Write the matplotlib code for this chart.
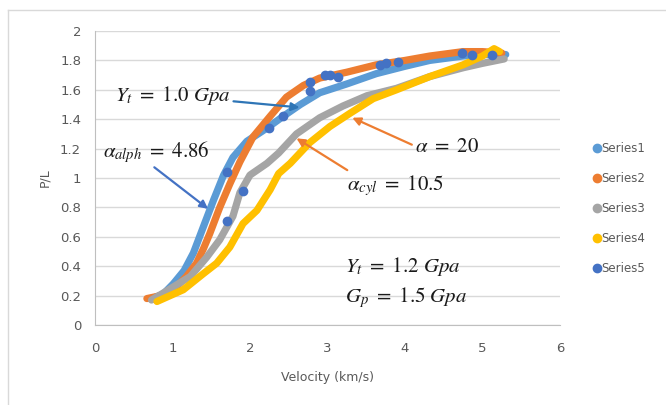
import matplotlib.pyplot as plt
from matplotlib.lines import Line2D

# velocity (km/s) and P/L for each series
v1 = [0.74, 0.88, 1.01, 1.15, 1.27, 1.40, 1.53, 1.66, 1.78, 1.96, 2.22, 2.43, 2.65, 2.90, 3.25, 3.63, 4.0, 4.32, 4.75, 5.0, 5.3]
p1 = [0.18, 0.21, 0.28, 0.37, 0.49, 0.67, 0.85, 1.02, 1.14, 1.25, 1.34, 1.42, 1.50, 1.58, 1.64, 1.71, 1.76, 1.80, 1.83, 1.84, 1.84]

v2 = [0.67, 0.85, 1.05, 1.18, 1.31, 1.40, 1.48, 1.61, 1.74, 1.87, 2.04, 2.26, 2.47, 2.69, 2.90, 3.25, 3.63, 4.0, 4.32, 4.75, 5.0, 5.25]
p2 = [0.18, 0.20, 0.26, 0.33, 0.42, 0.52, 0.62, 0.80, 0.96, 1.11, 1.28, 1.42, 1.55, 1.63, 1.68, 1.72, 1.77, 1.80, 1.83, 1.86, 1.86, 1.85]

v3 = [0.73, 0.92, 1.23, 1.44, 1.61, 1.78, 1.87, 2.0, 2.22, 2.37, 2.60, 2.90, 3.20, 3.51, 3.89, 4.32, 4.75, 5.0, 5.28]
p3 = [0.17, 0.23, 0.33, 0.46, 0.58, 0.74, 0.90, 1.02, 1.10, 1.17, 1.30, 1.41, 1.49, 1.56, 1.61, 1.69, 1.75, 1.78, 1.81]

v4 = [0.80, 1.14, 1.40, 1.57, 1.74, 1.91, 2.09, 2.26, 2.37, 2.52, 2.77, 3.03, 3.29, 3.59, 3.89, 4.32, 4.75, 5.0, 5.15, 5.22]
p4 = [0.16, 0.24, 0.35, 0.42, 0.53, 0.69, 0.78, 0.92, 1.03, 1.10, 1.24, 1.35, 1.44, 1.54, 1.60, 1.69, 1.77, 1.83, 1.88, 1.86]

v5 = [1.71, 1.71, 1.91, 2.24, 2.43, 2.77, 2.77, 2.97, 3.03, 3.14, 3.68, 3.76, 3.91, 4.73, 4.86, 5.12]
p5 = [0.71, 1.04, 0.91, 1.34, 1.42, 1.59, 1.65, 1.70, 1.70, 1.69, 1.77, 1.78, 1.79, 1.85, 1.84, 1.84]

names = ['Series1', 'Series2', 'Series3', 'Series4', 'Series5']
colors = ['#5B9BD5', '#ED7D31', '#A5A5A5', '#FFC000', '#4472C4']

xticks = [0, 1, 2, 3, 4, 5, 6]
yticks = [0, 0.2, 0.4, 0.6, 0.8, 1, 1.2, 1.4, 1.6, 1.8, 2]
ytick_labels = ['0', '0.2', '0.4', '0.6', '0.8', '1', '1.2', '1.4', '1.6', '1.8', '2']

plt.rcParams['mathtext.fontset'] = 'stix'

fig = plt.figure(figsize=(6.66, 4.05), dpi=100)
ax = fig.add_axes([0.1426, 0.1975, 0.6982, 0.7259])

for vv, pp, c in zip([v1, v2, v3, v4], [p1, p2, p3, p4], colors[:4]):
    ax.plot(vv, pp, color=c, lw=5.2, solid_capstyle='round', solid_joinstyle='round', zorder=3)
ax.plot(v5, p5, 'o', color=colors[4], ms=6, zorder=4)

ax.set_xlim(0, 6)
ax.set_ylim(0, 2)
ax.set_xticks(xticks)
ax.set_yticks(yticks)
ax.set_yticklabels(ytick_labels)
ax.tick_params(length=0, labelsize=9.5, colors='#595959')
ax.tick_params(axis='x', pad=12)
ax.tick_params(axis='y', pad=10)
ax.grid(axis='y', color='#D9D9D9', lw=1)
ax.set_axisbelow(True)
for s in ['top', 'right']:
    ax.spines[s].set_visible(False)
for s in ['left', 'bottom']:
    ax.spines[s].set_color('#BFBFBF')
ax.set_xlabel('Velocity (km/s)', fontsize=9, color='#595959', labelpad=12)
ax.set_ylabel('P/L', fontsize=9, color='#595959', labelpad=6)

# annotations
ts = 15
ax.annotate(r'$Y_t\ =\ 1.0\ Gpa$', xy=(2.64, 1.48), xytext=(0.26, 1.56),
            fontsize=ts, va='center', color='#1a1a1a',
            arrowprops=dict(arrowstyle='-|>', color='#2E75B6', lw=1.6,
                            mutation_scale=12, shrinkA=0, shrinkB=0,
                            relpos=(0.93, 0.3)))
ax.annotate(r'$\alpha_{alph}\ =\ 4.86$', xy=(1.46, 0.79), xytext=(0.1, 1.18),
            fontsize=ts, va='center', color='#1a1a1a',
            arrowprops=dict(arrowstyle='-|>', color='#4472C4', lw=1.6,
                            mutation_scale=12, shrinkA=0, shrinkB=0,
                            relpos=(0.45, 0.0)))
ax.annotate(r'$\alpha\ =\ 20$', xy=(3.32, 1.41), xytext=(4.13, 1.22),
            fontsize=ts, va='center', color='#1a1a1a',
            arrowprops=dict(arrowstyle='-|>', color='#ED7D31', lw=1.6,
                            mutation_scale=12, shrinkA=0, shrinkB=0,
                            relpos=(-0.05, 0.55)))
ax.annotate(r'$\alpha_{cyl}\ =\ 10.5$', xy=(2.6, 1.27), xytext=(3.25, 0.95),
            fontsize=ts, va='center', color='#1a1a1a',
            arrowprops=dict(arrowstyle='-|>', color='#ED7D31', lw=1.6,
                            mutation_scale=12, shrinkA=0, shrinkB=0,
                            relpos=(0.05, 1.0)))
ax.text(3.23, 0.40, r'$Y_t\ =\ 1.2\ Gpa$', fontsize=ts, va='center', color='#1a1a1a')
ax.text(3.23, 0.19, r'$G_p\ =\ 1.5\ Gpa$', fontsize=ts, va='center', color='#1a1a1a')

handles = [Line2D([], [], ls='none', marker='o', ms=6, color=c) for c in colors]
fig.legend(handles, names, loc='center left', bbox_to_anchor=(0.875, 0.485),
           frameon=False, fontsize=8.5, labelspacing=1.45, handlelength=0.6,
           handletextpad=0.1, labelcolor='#595959')

# chart area border
fig.add_artist(Line2D([8 / 666, 8 / 666], [0, 1 - 10 / 405], color='#D9D9D9', lw=1))
fig.add_artist(Line2D([8 / 666, 1], [1 - 10 / 405, 1 - 10 / 405], color='#D9D9D9', lw=1))

fig.savefig('out.png', dpi=100)
